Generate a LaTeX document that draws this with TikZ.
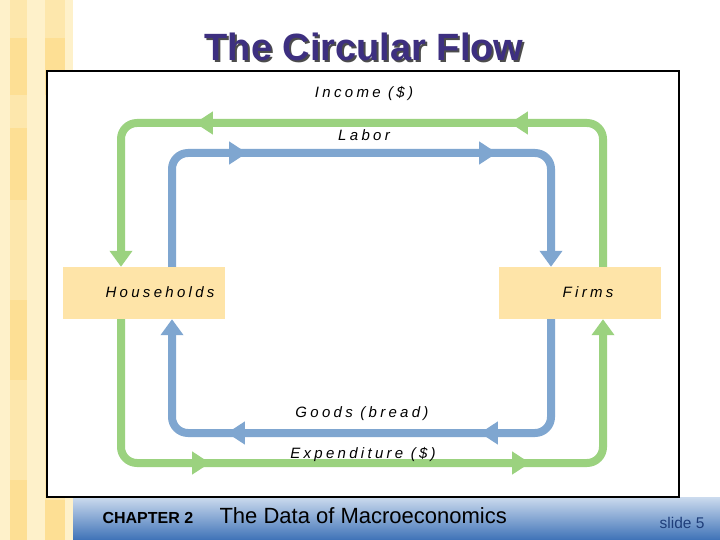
\documentclass[tikz,border=0pt]{standalone}
\usepackage{fontspec}
\setmainfont{Liberation Sans}
\newfontfamily\lblfont[LetterSpace=22]{Liberation Sans}
\usetikzlibrary{arrows.meta,decorations.markings}
\definecolor{flowgreen}{HTML}{9BD27F}
\definecolor{flowblue}{HTML}{7FA6D0}
\definecolor{boxfill}{HTML}{FEE4A8}
\definecolor{titlecol}{HTML}{3D2F80}
\definecolor{stripA}{HTML}{FEF1CA}
\definecolor{stripB}{HTML}{FDE7AC}
\definecolor{stripC}{HTML}{FDDF94}
\definecolor{barTop}{HTML}{CCDBEE}
\definecolor{barBot}{HTML}{3E72B7}
\definecolor{slidecol}{HTML}{1F3E7A}
\newcommand{\shadowtext}[1]{\makebox[0pt][l]{\hspace{2bp}\raisebox{-2bp}{\color{black!70}#1}}#1}
\tikzset{
  flowline/.style={line width=8bp, rounded corners=16bp, line cap=butt},
  greenflow/.style={flowline, draw=flowgreen, -{Triangle[length=16bp,width=22bp]}},
  blueflow/.style={flowline, draw=flowblue, -{Triangle[length=16bp,width=22bp]}},
  midarrows/.style 2 args={postaction={decorate}, decoration={markings,
      mark=at position #1 with {\arrow{Triangle[length=18bp,width=22bp]}},
      mark=at position #2 with {\arrow{Triangle[length=18bp,width=22bp]}}}},
  sector/.style={draw=none, fill=boxfill, minimum width=162bp, minimum height=52bp, inner sep=0pt},
  sectorlabel/.style={font=\lblfont\itshape\fontsize{15bp}{17bp}\selectfont, inner sep=0pt},
  flowlabel/.style={font=\lblfont\itshape\fontsize{15bp}{17bp}\selectfont, inner sep=0pt},
}
\begin{document}
\begin{tikzpicture}[x=1bp,y=-1bp]
\useasboundingbox (0,0) rectangle (720,540);
\fill[white] (0,0) rectangle (720,540);
% left decorative strip
\fill[stripA] (0,0) rectangle (73,540);
\fill[stripB] (10,0) rectangle (27,540);
\fill[stripB] (45,0) rectangle (65,540);
\fill[stripC] (10,38) rectangle (27,95);
\fill[stripC] (45,38) rectangle (65,95);
\fill[stripC] (10,128) rectangle (27,200);
\fill[stripC] (10,300) rectangle (27,380);
\fill[stripC] (45,330) rectangle (65,420);
\fill[stripC] (10,480) rectangle (27,540);
\fill[stripC] (45,500) rectangle (65,540);
% bottom bar
\shade[top color=barTop, bottom color=barBot] (73,497) rectangle (720,540);
% frame
\draw[black, line width=1.5bp, fill=white] (47,71) rectangle (679,497);
% title (with drop shadow)
\node[text=titlecol, font=\bfseries\fontsize{38bp}{40bp}\selectfont] (title) at (364,48) {\shadowtext{The Circular Flow}};
% footer
\node[anchor=west, font=\bfseries\fontsize{16bp}{18bp}\selectfont] (chap) at (99,518) {CHAPTER 2};
\node[anchor=west, font=\fontsize{22bp}{25bp}\selectfont] (book) at (216,516) {The Data of Macroeconomics};
\node[anchor=east, text=slidecol, font=\fontsize{15.5bp}{17bp}\selectfont] (slide) at (708,523) {slide 5};
% sectors
\node[sector] (hh) at (144,293) {};
\node[sector] (firms) at (579.5,293) {};
\node[sectorlabel] (hhlabel) at (160,292) {Households};
\node[sectorlabel] (firmslabel) at (588,292) {Firms};
% loop coordinates
\coordinate (gL) at (121,0);
\coordinate (gR) at (603,0);
\coordinate (bL) at (172,0);
\coordinate (bR) at (551,0);
% Income: firms -> households (green, top)
\draw[greenflow, midarrows={230bp}{545bp}]
  (firms.north -| gR) -- (603,123) -- (121,123) -- (hh.north -| gL);
% Labor: households -> firms (blue, top)
\draw[blueflow, midarrows={182bp}{432bp}]
  (hh.north -| bL) -- (172,153) -- (551,153) -- (firms.north -| bR);
% Goods: firms -> households (blue, bottom)
\draw[blueflow, midarrows={178bp}{431bp}]
  (firms.south -| bR) -- (551,433) -- (172,433) -- (hh.south -| bL);
% Expenditure: households -> firms (green, bottom)
\draw[greenflow, midarrows={226bp}{546bp}]
  (hh.south -| gL) -- (121,463) -- (603,463) -- (firms.south -| gR);
% flow labels
\node[flowlabel] (income) at (364,94) {Income (\$)};
\node[flowlabel] (labor) at (364,135) {Labor};
\node[flowlabel] (goods) at (362,414) {Goods (bread)};
\node[flowlabel] (expend) at (363,455) {Expenditure (\$)};
\end{tikzpicture}
\end{document}
